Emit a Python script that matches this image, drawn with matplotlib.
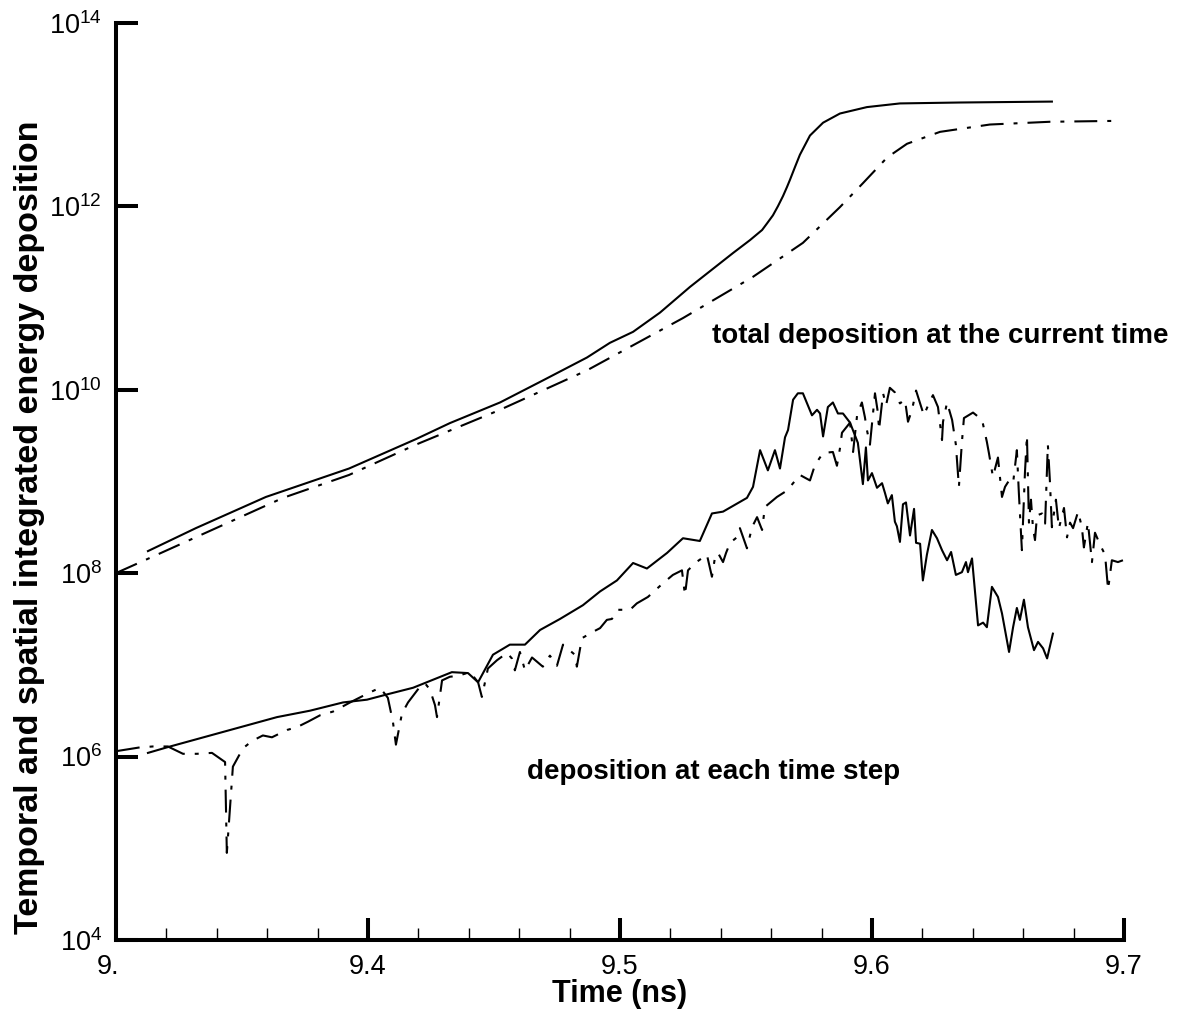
import matplotlib
matplotlib.use("Agg")
import matplotlib.pyplot as plt
import matplotlib.transforms as mtransforms
from matplotlib.ticker import MultipleLocator, NullLocator
import numpy as np

plt.rcParams['font.family'] = ['Liberation Sans', 'DejaVu Sans']
plt.rcParams['mathtext.fontset'] = 'custom'
plt.rcParams['mathtext.rm'] = 'Liberation Sans'
plt.rcParams['mathtext.it'] = 'Liberation Sans:italic'
plt.rcParams['mathtext.bf'] = 'Liberation Sans:bold'

# total deposition at the current time (log10 of value)
tot_solid_t = [9.3127, 9.3317, 9.3595, 9.3925, 9.4190, 9.4325, 9.4524, 9.4694,
               9.4869, 9.4960, 9.5052, 9.5159, 9.5278, 9.5449, 9.5516, 9.5564,
               9.5583, 9.5607, 9.5627, 9.5647, 9.5663, 9.5675, 9.5695, 9.5714,
               9.5754, 9.5806, 9.5873, 9.5980, 9.6111, 9.6349, 9.6714]
tot_solid_lg = [8.24, 8.49, 8.83, 9.14, 9.46, 9.635, 9.86, 10.10,
                10.35, 10.51, 10.63, 10.84, 11.12, 11.49, 11.63, 11.74,
                11.81, 11.90, 12.00, 12.11, 12.21, 12.29, 12.43, 12.56,
                12.77, 12.91, 13.01, 13.08, 13.12, 13.13, 13.14]

tot_dash_t = [9.3000, 9.3179, 9.3397, 9.3663, 9.3925, 9.4190, 9.4524, 9.4869,
              9.5250, 9.5528, 9.5726, 9.5873, 9.5964, 9.6060, 9.6139, 9.6270,
              9.6468, 9.6706, 9.6976]
tot_dash_lg = [8.00, 8.22, 8.49, 8.82, 9.07, 9.40, 9.78, 10.21,
               10.78, 11.23, 11.60, 11.99, 12.25, 12.53, 12.68, 12.81,
               12.89, 12.92, 12.93]

# deposition at each time step (log10 of value)
step_solid_t = [9.3127, 9.3202, 9.3639, 9.3770, 9.3901, 9.3996, 9.4079, 9.4179,
                9.4333, 9.4397, 9.4437, 9.4496, 9.4563, 9.4623, 9.4683, 9.4762,
                9.4853, 9.4921, 9.4988, 9.5052, 9.5107, 9.5187, 9.5250, 9.5317,
                9.5365, 9.5409, 9.5504, 9.5528, 9.5556, 9.5587, 9.5615, 9.5635,
                9.5655, 9.5667, 9.5687, 9.5706, 9.5726, 9.5762, 9.5782, 9.5794,
                9.5806, 9.5825, 9.5845, 9.5865, 9.5885, 9.5913, 9.5944, 9.5964,
                9.5976, 9.5984, 9.6000, 9.6020, 9.6040, 9.6052, 9.6063, 9.6079,
                9.6091, 9.6099, 9.6111, 9.6123, 9.6135, 9.6151, 9.6167, 9.6175,
                9.6191, 9.6202, 9.6218, 9.6238, 9.6258, 9.6278, 9.6298, 9.6314,
                9.6333, 9.6357, 9.6373, 9.6381, 9.6397, 9.6421, 9.6441, 9.6456,
                9.6476, 9.6500, 9.6516, 9.6544, 9.6560, 9.6575, 9.6587, 9.6603,
                9.6619, 9.6643, 9.6659, 9.6679, 9.6695, 9.6718]
step_solid_lg = [6.04, 6.10, 6.43, 6.50, 6.59, 6.62, 6.68, 6.75,
                 6.92, 6.91, 6.81, 7.11, 7.22, 7.22, 7.38, 7.50,
                 7.65, 7.80, 7.92, 8.11, 8.05, 8.22, 8.38, 8.35,
                 8.65, 8.67, 8.82, 8.94, 9.34, 9.12, 9.34, 9.14,
                 9.48, 9.56, 9.89, 9.96, 9.96, 9.72, 9.78, 9.74,
                 9.49, 9.81, 9.86, 9.74, 9.74, 9.64, 9.42, 8.97,
                 9.37, 9.01, 9.09, 8.93, 8.98, 8.87, 8.76, 8.85,
                 8.56, 8.51, 8.34, 8.75, 8.77, 8.41, 8.70, 8.33,
                 8.32, 7.92, 8.20, 8.47, 8.38, 8.25, 8.14, 8.23,
                 7.98, 8.01, 8.12, 8.01, 8.16, 7.43, 7.46, 7.41,
                 7.85, 7.74, 7.56, 7.14, 7.41, 7.62, 7.49, 7.71,
                 7.41, 7.16, 7.25, 7.18, 7.07, 7.34]

step_dash_t = [9.3004, 9.3095, 9.3147, 9.3206, 9.3266, 9.3321, 9.3381, 9.3433,
               9.3440, 9.3464, 9.3504, 9.3540, 9.3583, 9.3619, 9.3679, 9.3718,
               9.3762, 9.3810, 9.3861, 9.3889, 9.3929, 9.4008, 9.4048, 9.4079,
               9.4099, 9.4111, 9.4135, 9.4159, 9.4206, 9.4226, 9.4246, 9.4266,
               9.4274, 9.4294, 9.4325, 9.4357, 9.4405, 9.4437, 9.4452, 9.4476,
               9.4512, 9.4552, 9.4571, 9.4583, 9.4603, 9.4623, 9.4651, 9.4694,
               9.4722, 9.4750, 9.4774, 9.4821, 9.4829, 9.4849, 9.4893, 9.4921,
               9.4948, 9.4968, 9.4992, 9.5040, 9.5067, 9.5111, 9.5171, 9.5210,
               9.5246, 9.5258, 9.5270, 9.5298, 9.5345, 9.5365, 9.5377, 9.5389,
               9.5409, 9.5421, 9.5437, 9.5464, 9.5476, 9.5504, 9.5524, 9.5544,
               9.5564, 9.5575, 9.5623, 9.5663, 9.5714, 9.5754, 9.5774, 9.5806,
               9.5845, 9.5861, 9.5873, 9.5881, 9.5913, 9.5925, 9.5941, 9.5960,
               9.5972, 9.5980, 9.5992, 9.6004, 9.6012, 9.6024, 9.6028, 9.6044,
               9.6056, 9.6071, 9.6091, 9.6111, 9.6131, 9.6143, 9.6159, 9.6175,
               9.6191, 9.6206, 9.6226, 9.6242, 9.6262, 9.6278, 9.6282, 9.6298,
               9.6318, 9.6333, 9.6345, 9.6357, 9.6365, 9.6401, 9.6437, 9.6456,
               9.6464, 9.6480, 9.6500, 9.6516, 9.6528, 9.6544, 9.6560, 9.6567,
               9.6575, 9.6583, 9.6595, 9.6607, 9.6615, 9.6623, 9.6631, 9.6639,
               9.6647, 9.6655, 9.6675, 9.6687, 9.6698, 9.6706, 9.6714, 9.6722,
               9.6730, 9.6742, 9.6762, 9.6774, 9.6786, 9.6798, 9.6818, 9.6833,
               9.6841, 9.6857, 9.6873, 9.6885, 9.6905, 9.6925, 9.6937, 9.6952,
               9.6976, 9.6996]
step_dash_lg = [6.06, 6.10, 6.11, 6.11, 6.03, 6.03, 6.04, 5.94,
                4.95, 5.89, 6.09, 6.17, 6.23, 6.21, 6.29, 6.32,
                6.38, 6.45, 6.49, 6.53, 6.59, 6.70, 6.75, 6.64,
                6.38, 6.13, 6.47, 6.59, 6.76, 6.80, 6.73, 6.56,
                6.43, 6.83, 6.87, 6.88, 6.92, 6.81, 6.65, 6.96,
                7.05, 7.13, 7.07, 6.94, 7.14, 6.94, 7.08, 6.98,
                7.10, 6.99, 7.22, 7.11, 6.98, 7.29, 7.36, 7.40,
                7.49, 7.50, 7.60, 7.60, 7.67, 7.74, 7.89, 7.98,
                8.03, 7.76, 8.03, 8.11, 8.20, 7.96, 8.17, 8.22,
                8.12, 8.22, 8.33, 8.39, 8.49, 8.27, 8.50, 8.61,
                8.47, 8.72, 8.83, 8.90, 9.07, 9.01, 9.18, 9.31,
                9.32, 9.17, 9.36, 9.53, 9.64, 9.32, 9.72, 9.86,
                9.70, 9.56, 9.40, 9.74, 9.96, 9.74, 9.56, 9.96,
                9.83, 10.02, 9.97, 9.85, 9.89, 9.65, 9.78, 9.99,
                9.85, 9.72, 9.85, 9.94, 9.81, 9.45, 9.65, 9.86,
                9.67, 9.40, 8.94, 9.43, 9.69, 9.75, 9.67, 9.43,
                9.31, 9.05, 9.26, 8.83, 8.94, 9.01, 8.98, 9.15,
                9.34, 8.87, 8.25, 9.09, 9.50, 8.55, 8.80, 8.49,
                8.36, 8.63, 8.65, 8.54, 9.40, 9.01, 8.50, 8.65,
                8.80, 8.49, 8.71, 8.39, 8.55, 8.49, 8.67, 8.50,
                8.28, 8.55, 8.12, 8.44, 8.31, 8.20, 7.82, 8.14,
                8.12, 8.14]

xticks = [9.3, 9.4, 9.5, 9.6, 9.7]
xticklabels = ['9.', '9.4', '9.5', '9.6', '9.7']
yticks = [1e4, 1e6, 1e8, 1e10, 1e12, 1e14]
yticklabels = [r'$\mathregular{10^{%d}}$' % e for e in (4, 6, 8, 10, 12, 14)]

fig = plt.figure(figsize=(11.82, 10.18), dpi=100)
ax = fig.add_axes([0.0981, 0.0766, 0.8528, 0.9011])

dashdot = (0, (11, 4.8, 1.9, 4.8))
lw = 1.5
ax.plot(tot_solid_t, 10 ** np.array(tot_solid_lg), color='black', lw=lw)
ax.plot(tot_dash_t, 10 ** np.array(tot_dash_lg), color='black', lw=lw, linestyle=dashdot)
ax.plot(step_solid_t, 10 ** np.array(step_solid_lg), color='black', lw=lw)
ax.plot(step_dash_t, 10 ** np.array(step_dash_lg), color='black', lw=lw, linestyle=dashdot)

ax.set_yscale('log')
ax.set_xlim(9.3, 9.7)
ax.set_ylim(1e4, 1e14)

for s in ['top', 'right']:
    ax.spines[s].set_visible(False)
for s in ['left', 'bottom']:
    ax.spines[s].set_linewidth(2.9)

ax.set_xticks(xticks)
ax.set_xticklabels(xticklabels)
ax.xaxis.set_minor_locator(MultipleLocator(0.02))
ax.set_yticks(yticks)
ax.set_yticklabels(yticklabels)
ax.yaxis.set_minor_locator(NullLocator())

ax.tick_params(axis='both', which='major', direction='in', length=16, width=2.9,
               labelsize=19.5, pad=10)
ax.tick_params(axis='x', which='minor', direction='in', length=9, width=1.0)

# the first x label is clipped to "9." in the original
first = ax.get_xticklabels()[0]
first.set_ha('right')
first.set_transform(first.get_transform() +
                    mtransforms.ScaledTranslation(3 / 100, 0, fig.dpi_scale_trans))

ax.set_xlabel('Time (ns)', fontsize=22, fontweight='bold', labelpad=-1)
ax.set_ylabel('Temporal and spatial integrated energy deposition', fontsize=24.5,
              fontweight='bold')
ax.yaxis.set_label_coords(-0.0704, 0.45)

ax.text(9.5365, 3.83e10, 'total deposition at the current time', fontsize=20,
        fontweight='bold', ha='left', va='center')
ax.text(9.4631, 6.8e5, 'deposition at each time step', fontsize=20,
        fontweight='bold', ha='left', va='center')

fig.savefig('out.png', dpi=100)
